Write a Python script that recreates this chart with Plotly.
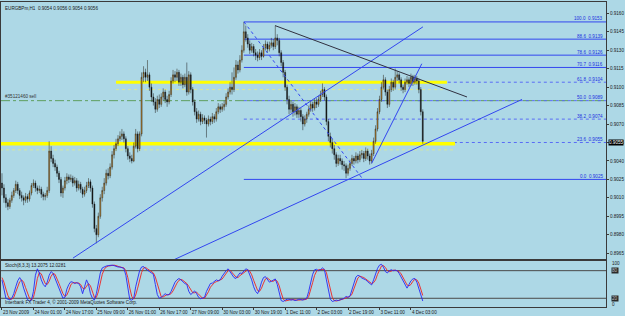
import plotly.graph_objects as go

# ---------------- data (prices in pips = 1e-4) ----------------
first_open = 9022
close_p = [9018, 9010, 9006, 9003, 9008, 9012, 9016, 9021, 9016, 9012, 9010, 9008, 9011, 9009, 9014, 9020, 9022, 9018, 9016, 9017, 9013, 9011, 9012, 9016,
           9048, 9042, 9038, 9035, 9030, 9025, 9014, 9018, 9024, 9027, 9025, 9026, 9022, 9024, 9018, 9021, 9017, 9013, 9016, 9020, 9023, 9018, 9005, 8985, 8980, 8995, 9010,
           9016,
           9022, 9030, 9028, 9035, 9045, 9050, 9054, 9058, 9060, 9062, 9058, 9050, 9044, 9042, 9040, 9052, 9062, 9050, 9062, 9108, 9112, 9108, 9110, 9100, 9092, 9088, 9082, 9090,
           9086, 9092, 9096, 9090, 9088, 9094, 9105, 9110, 9108, 9112, 9104, 9108, 9102, 9108, 9096, 9110, 9098, 9088, 9080, 9074, 9078, 9072, 9075, 9073, 9070, 9074, 9072, 9076,
           9074, 9080, 9084, 9082,
           9084,
           9086, 9092, 9096, 9100, 9098, 9108, 9118, 9114, 9122, 9130, 9145, 9140, 9135, 9130, 9133, 9128, 9126, 9124, 9128, 9125, 9132, 9135, 9131, 9134, 9136, 9133, 9140, 9138,
           9128, 9120, 9112, 9100, 9090, 9082, 9086, 9080, 9084, 9078, 9081, 9076, 9070, 9074, 9078, 9082, 9086, 9083, 9088, 9086, 9090, 9094, 9098, 9092, 9072, 9060, 9055, 9050,
           9045, 9038, 9042, 9040,
           9037,
           9036, 9030, 9034, 9038, 9042, 9040, 9044, 9041, 9045, 9046, 9042, 9048, 9044, 9040, 9046, 9056, 9066, 9080, 9090, 9100, 9106, 9096, 9086, 9098, 9104, 9100, 9108, 9110,
           9106, 9100, 9098, 9104, 9106, 9103, 9108, 9104, 9107, 9105, 9098, 9080, 9056]
high_p = [9030, 9021, 9013, 9009, 9010, 9015, 9018, 9024, 9023, 9018, 9015, 9012, 9014, 9013, 9016, 9022, 9025, 9024, 9020, 9020, 9019, 9015, 9014, 9019,
          9056, 9052, 9045, 9041, 9037, 9032, 9027, 9020, 9027, 9030, 9029, 9029, 9028, 9027, 9026, 9024, 9023, 9019, 9019, 9023, 9026, 9025, 9020, 9007, 8988, 8998, 9013,
          9019, 9026, 9033, 9034, 9038, 9048, 9053, 9058, 9061, 9064, 9066, 9064, 9060, 9052, 9047, 9045, 9055, 9066, 9064, 9064, 9112, 9117, 9115, 9122, 9112, 9103, 9095, 9091,
          9093, 9094, 9095, 9099, 9098, 9093, 9097, 9108, 9114, 9113, 9115, 9114, 9111, 9110, 9111, 9120, 9113, 9112, 9100, 9090, 9083, 9081, 9080, 9078, 9077, 9075, 9077, 9076,
          9079, 9078, 9083, 9087, 9086, 9087, 9089, 9095, 9099, 9104, 9112, 9116, 9122, 9121, 9126, 9134, 9153, 9150, 9143, 9138, 9136, 9135, 9131, 9129, 9131, 9130, 9135, 9138,
          9137, 9137, 9140, 9139, 9150, 9143, 9140, 9130, 9122, 9114, 9102, 9093, 9089, 9088, 9087, 9086, 9084, 9083, 9078, 9077, 9080, 9085, 9089, 9088, 9091, 9091, 9093, 9097,
          9103, 9100, 9094, 9074, 9063, 9058, 9053, 9047, 9045, 9045, 9042, 9040, 9038, 9037, 9041, 9045, 9044, 9047, 9046, 9048, 9049, 9048, 9051, 9050, 9046, 9049, 9059, 9069,
          9083, 9093, 9104, 9110, 9108, 9098, 9101, 9107, 9106, 9115, 9113, 9112, 9108, 9102, 9107, 9109, 9108, 9111, 9110, 9110, 9109, 9107, 9100, 9082]
low_p = [9012, 9006, 9002, 9000, 9001, 9006, 9010, 9014, 9013, 9009, 9007, 9004, 9006, 9006, 9007, 9012, 9018, 9015, 9013, 9014, 9010, 9008, 9008, 9010,
         9014, 9039, 9035, 9032, 9027, 9022, 9011, 9010, 9016, 9021, 9022, 9023, 9019, 9020, 9015, 9016, 9014, 9010, 9011, 9014, 9018, 9015, 9002, 8982, 8973, 8978, 8993,
         9007, 9013, 9020, 9025, 9026, 9033, 9042, 9048, 9052, 9056, 9057, 9055, 9047, 9041, 9039, 9038, 9039, 9050, 9047, 9048, 9060, 9104, 9104, 9105, 9097, 9088, 9085, 9079,
         9080, 9083, 9084, 9089, 9087, 9084, 9086, 9092, 9103, 9104, 9105, 9101, 9101, 9099, 9100, 9093, 9094, 9095, 9085, 9077, 9071, 9072, 9069, 9070, 9070, 9059, 9068, 9069,
         9070, 9071, 9072, 9078, 9079, 9080, 9081, 9084, 9090, 9094, 9094, 9096, 9106, 9111, 9112, 9120, 9128, 9137, 9132, 9127, 9128, 9125, 9122, 9121, 9122, 9122, 9124, 9130,
         9128, 9129, 9132, 9130, 9131, 9134, 9125, 9117, 9108, 9097, 9086, 9078, 9079, 9076, 9077, 9075, 9075, 9072, 9065, 9068, 9071, 9076, 9080, 9080, 9081, 9083, 9084, 9088,
         9092, 9089, 9069, 9056, 9051, 9046, 9041, 9035, 9036, 9037, 9033, 9032, 9026, 9028, 9032, 9036, 9037, 9038, 9038, 9039, 9042, 9039, 9040, 9041, 9037, 9038, 9044, 9054,
         9064, 9078, 9088, 9098, 9093, 9083, 9084, 9096, 9097, 9098, 9105, 9103, 9097, 9095, 9096, 9102, 9100, 9101, 9101, 9102, 9102, 9095, 9077, 9054]

stoch_k = [60, 40, 20, 18, 17, 20, 30, 45, 58, 65, 58, 42, 28, 17, 14, 16, 35, 70, 84, 75, 60, 50, 45, 55, 70, 78, 74, 64, 52, 40,
           30, 20, 22, 40, 50, 56, 55, 52, 54, 52, 45, 30, 45, 60, 50, 30, 20, 16, 30, 55, 75, 86, 89, 90, 91, 92, 92, 91, 89, 88,
           88, 86, 85, 70, 40, 17, 16, 20, 45, 60, 80, 88, 89, 84, 80, 78, 75, 72, 50, 28, 20, 22, 26, 30, 27, 28, 35, 45, 55, 60,
           63, 60, 55, 52, 50, 35, 28, 32, 36, 30, 22, 19, 20, 22, 35, 45, 52, 53, 56, 60, 58, 60, 68, 75, 80, 84, 78, 70, 65, 63,
           68, 75, 74, 80, 84, 82, 72, 60, 45, 35, 30, 40, 55, 65, 67, 60, 55, 57, 60, 62, 50, 30, 15, 13, 15, 18, 18, 16, 17, 15,
           16, 18, 17, 16, 18, 20, 35, 55, 72, 82, 83, 80, 82, 86, 82, 60, 35, 18, 13, 14, 16, 15, 17, 19, 20, 24, 22, 25, 40, 55,
           66, 70, 68, 64, 62, 60, 56, 52, 49, 60, 72, 85, 92, 94, 88, 78, 75, 80, 82, 80, 81, 80, 74, 66, 58, 48, 42, 50, 58, 62,
           63, 55, 40, 25, 14]
stoch_d = [65, 55, 40, 26, 18, 18, 22, 32, 44, 56, 60, 55, 43, 29, 20, 16, 22, 40, 63, 76, 73, 62, 52, 50, 57, 68, 74, 72, 63, 52,
           41, 30, 24, 27, 37, 49, 54, 54, 54, 53, 50, 42, 40, 45, 52, 47, 33, 22, 22, 34, 53, 72, 83, 88, 90, 91, 92, 92, 91, 89,
           88, 87, 86, 80, 65, 42, 24, 18, 27, 42, 62, 76, 86, 87, 84, 81, 78, 75, 66, 50, 33, 23, 23, 26, 28, 28, 30, 36, 45, 53,
           59, 61, 59, 56, 52, 46, 38, 32, 32, 33, 29, 24, 20, 20, 26, 34, 44, 50, 54, 56, 58, 59, 62, 68, 74, 80, 81, 77, 71, 66,
           65, 69, 72, 76, 79, 82, 79, 71, 59, 47, 37, 35, 42, 53, 62, 64, 61, 57, 57, 60, 57, 47, 32, 19, 14, 15, 17, 17, 17, 16,
           16, 16, 17, 17, 17, 18, 24, 37, 54, 70, 79, 82, 82, 83, 83, 76, 59, 38, 22, 15, 14, 15, 16, 17, 19, 21, 22, 24, 29, 40,
           54, 64, 68, 67, 65, 62, 59, 56, 52, 54, 60, 72, 83, 90, 91, 87, 80, 78, 79, 81, 81, 80, 78, 73, 66, 57, 49, 47, 50, 57,
           61, 60, 53, 40, 26]

date_tick_bars = [0, 16, 32, 48, 64, 80, 96, 112, 128, 144, 160, 176, 192, 208]
date_labels = ["23 Nov 2009", "24 Nov 01:00", "24 Nov 17:00", "25 Nov 09:00", "26 Nov 01:00", "26 Nov 17:00",
               "27 Nov 09:00", "30 Nov 03:00", "30 Nov 19:00", "1 Dec 11:00", "2 Dec 03:00", "2 Dec 19:00",
               "3 Dec 11:00", "4 Dec 03:00"]
price_ticks = [0.8965, 0.8980, 0.8995, 0.9010, 0.9025, 0.9040, 0.9055, 0.9070, 0.9085, 0.9100, 0.9115, 0.9130, 0.9145, 0.9160]
current_price = 0.9055

fib_pct = ["0.0", "23.6", "38.2", "50.0", "61.8", "70.7", "78.6", "88.6", "100.0"]
fib_price = [0.9025, 0.9055, 0.9074, 0.9089, 0.9104, 0.9116, 0.9126, 0.9139, 0.9153]
fib_start_bar = 123

yellow_price = [0.9104, 0.9054]
yellow_from = [58, -1]
yellow_to = [226.3, 230.4]
dotted_price = [0.9098, 0.9049]
order_price = 0.9089
order_label = "#35121460 sell"

trend_x0 = [36.1, 86.5, 138.9, 123.1, 188.0]
trend_y0 = [0.8961, 0.8959, 0.9150, 0.9153, 0.9038]
trend_x1 = [214.1, 264.5, 236.5, 183.6, 213.5]
trend_y1 = [0.9149, 0.9090, 0.9092, 0.9025, 0.9119]

stoch_levels = [80, 20]

# ---------------- build ----------------
n = len(close_p)
bars = list(range(n))
open_p = [first_open] + close_p[:-1]
o = [v / 10000 for v in open_p]
h = [v / 10000 for v in high_p]
l = [v / 10000 for v in low_p]
c = [v / 10000 for v in close_p]

X_RANGE = [-0.5, 307.2]
BG = "#ADD8E6"
AX = "#3a3a3a"
BLUE = "#3246F0"
FONT = "Liberation Sans"
FS = 4.6

fig = go.Figure()
fig.add_trace(go.Candlestick(
    x=bars, open=o, high=h, low=l, close=c, xaxis="x", yaxis="y",
    increasing=dict(fillcolor="#D0902A", line=dict(color="#2a2216", width=0.5)),
    decreasing=dict(fillcolor="#000000", line=dict(color="#1c1c1c", width=0.5)),
    whiskerwidth=0, showlegend=False, hoverinfo="skip"))

fig.add_trace(go.Scatter(x=bars, y=stoch_d, mode="lines", xaxis="x2", yaxis="y2",
                         line=dict(color="#F02020", width=0.9), showlegend=False, hoverinfo="skip"))
fig.add_trace(go.Scatter(x=bars, y=stoch_k, mode="lines", xaxis="x2", yaxis="y2",
                         line=dict(color="#2828F5", width=0.9), showlegend=False, hoverinfo="skip"))

shapes = []
shapes.append(dict(type="line", xref="x", yref="y", x0=X_RANGE[0], x1=X_RANGE[1], y0=order_price, y1=order_price,
                   line=dict(color="#5E9E5E", width=1, dash="dashdot"), layer="below"))
for p, a, b in zip(dotted_price, yellow_from, yellow_to):
    shapes.append(dict(type="line", xref="x", yref="y", x0=a, x1=b, y0=p, y1=p,
                       line=dict(color="#D8E89A", width=1, dash="dot"), layer="below"))
for pct, p in zip(fib_pct, fib_price):
    dotted = pct in ("23.6", "38.2", "50.0", "61.8")
    shapes.append(dict(type="line", xref="x", yref="y", x0=fib_start_bar, x1=X_RANGE[1], y0=p, y1=p,
                       line=dict(color="#5A6CF5" if dotted else BLUE, width=1, dash="dot" if dotted else "solid"),
                       layer="below"))
for p, a, b, w in zip(yellow_price, yellow_from, yellow_to, [3, 3.5]):
    shapes.append(dict(type="line", xref="x", yref="y", x0=a, x1=b, y0=p, y1=p,
                       line=dict(color="#FFFF00", width=w), layer="below"))
tl_colors = [BLUE, BLUE, "#303040", BLUE, BLUE]
tl_dash = ["solid", "solid", "solid", "dot", "solid"]
for x0, y0, x1, y1, col, d in zip(trend_x0, trend_y0, trend_x1, trend_y1, tl_colors, tl_dash):
    shapes.append(dict(type="line", xref="x", yref="y", x0=x0, x1=x1, y0=y0, y1=y1,
                       line=dict(color=col, width=1, dash=d), layer="above"))
for lv in stoch_levels:
    shapes.append(dict(type="line", xref="x2", yref="y2", x0=X_RANGE[0], x1=X_RANGE[1], y0=lv, y1=lv,
                       line=dict(color="#4a4a4a", width=1), layer="below"))

ann = []
tf = dict(family=FONT, size=FS, color="#1a1a1a")
ann.append(dict(xref="paper", yref="paper", x=0.004, y=0.995, xanchor="left", yanchor="top", showarrow=False,
                text="EURGBPm,H1  0.9054 0.9056 0.9054 0.9056", font=tf))
ann.append(dict(xref="paper", yref="y", x=0.004, y=order_price, xanchor="left", yanchor="bottom", showarrow=False,
                text=order_label, font=dict(family=FONT, size=FS, color="#333333")))
for pct, p in zip(fib_pct, fib_price):
    ann.append(dict(xref="paper", yref="y", x=0.998, y=p, xanchor="right", yanchor="bottom", showarrow=False,
                    text=f"{pct}  {p:.4f}", font=dict(family=FONT, size=FS, color="#2030E0"), yshift=-1.5))
ann.append(dict(xref="paper", yref="y", x=1.0, y=current_price, xanchor="left", yanchor="middle", showarrow=False,
                text=f"{current_price:.4f}", font=dict(family=FONT, size=FS, color="#FFFFFF"),
                bgcolor="#000000", borderpad=0, xshift=2))
ann.append(dict(xref="paper", yref="y2", x=0.004, y=100, xanchor="left", yanchor="top", showarrow=False,
                text="Stoch(8,3,3) 13.2075 12.0281", font=tf))
ann.append(dict(xref="paper", yref="y2", x=0.004, y=1, xanchor="left", yanchor="bottom", showarrow=False,
                text="Interbank FX Trader 4, \u00a9 2001-2009 MetaQuotes Software Corp.", font=tf))
for txt, yv, box in [("100", 96, False), ("80", 80, True), ("20", 20, True), ("0", 6, False)]:
    ann.append(dict(xref="paper", yref="y2", x=1.0, y=yv, xanchor="left", yanchor="middle", showarrow=False,
                    text=txt, font=dict(family=FONT, size=FS, color="#C0C0C0" if box else "#1a1a1a"),
                    bgcolor="#2a2a2a" if box else None, borderpad=0, xshift=5))

fig.update_layout(
    width=625, height=316,
    margin=dict(l=1, r=19, t=2, b=9, autoexpand=False),
    paper_bgcolor=BG, plot_bgcolor=BG,
    font=dict(family=FONT, size=FS, color="#1a1a1a"),
    showlegend=False,
    shapes=shapes, annotations=ann,
    xaxis=dict(domain=[0, 1], anchor="y", range=X_RANGE, showticklabels=False, ticks="",
               showline=True, mirror=True, linecolor=AX, linewidth=1, showgrid=False, zeroline=False,
               rangeslider=dict(visible=False), automargin=False),
    yaxis=dict(domain=[0.1574, 1], anchor="x", range=[0.89603, 0.91692], side="right",
               tickvals=price_ticks, tickformat=".4f", ticks="outside", ticklen=2, tickcolor=AX,
               tickfont=dict(family=FONT, size=FS, color="#1a1a1a"), automargin=False,
               showline=True, mirror=True, linecolor=AX, linewidth=1, showgrid=False, zeroline=False),
    xaxis2=dict(domain=[0, 1], anchor="y2", matches="x", range=X_RANGE,
                tickvals=date_tick_bars, ticktext=date_labels, ticks="outside", ticklen=2, tickcolor=AX,
                tickangle=0, automargin=False,
                ticklabelposition="outside right", tickfont=dict(family=FONT, size=FS, color="#1a1a1a"),
                showline=True, mirror=True, linecolor=AX, linewidth=1, showgrid=False, zeroline=False),
    yaxis2=dict(domain=[0, 0.1508], anchor="x2", range=[1, 101], side="right", showticklabels=False, ticks="",
                automargin=False,
                showline=True, mirror=True, linecolor=AX, linewidth=1, showgrid=False, zeroline=False),
)

fig.write_html("out.html")
